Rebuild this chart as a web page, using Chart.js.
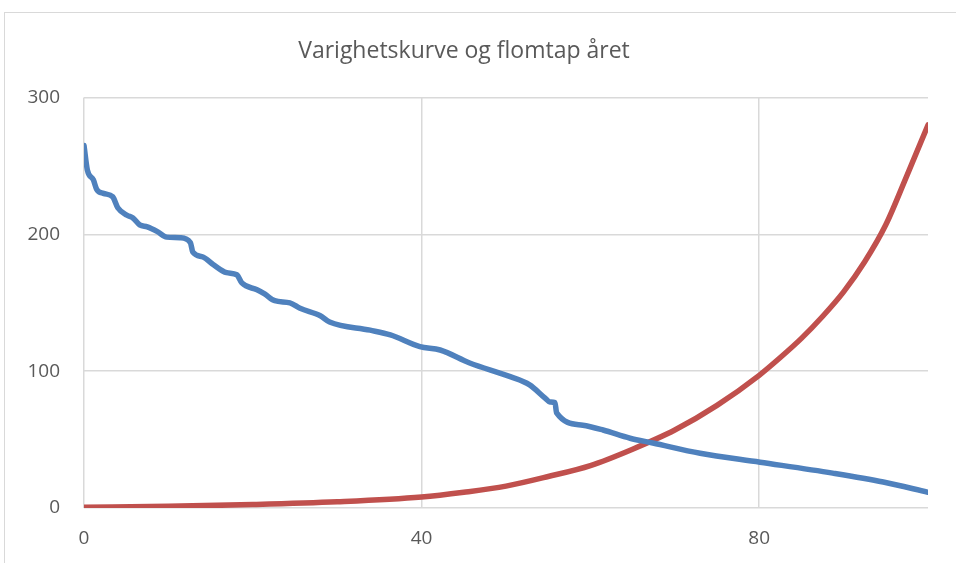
<!DOCTYPE html>
<html>
<head>
<meta charset="utf-8">
<script src="https://cdn.jsdelivr.net/npm/chart.js@4/dist/chart.umd.min.js"></script>
<style>
  body { margin: 0; background: #fff; }
  #wrap { position: relative; width: 956px; height: 563px; overflow: hidden; }
  #frame { position: absolute; left: 4px; top: 12px; width: 980px; height: 600px; border: 1px solid #d9d9d9; }
  #chart { position: absolute; left: 0; top: 0; }
</style>
</head>
<body>
<div id="wrap">
  <div id="frame"></div>
  <canvas id="chart" width="956" height="563"></canvas>
</div>
<script>
// varighetskurve (blue)
const durationX = [0, 0.4, 1.1, 1.5, 2.3, 3.4, 4.0, 5.1, 5.8, 6.6, 7.5, 8.7, 9.8, 11.4, 12.6, 12.9, 14.1, 15.3, 16.9, 18.1, 18.7, 20.5, 21.4, 22.6, 24.4, 25.6, 28.0, 29.1, 33.9, 36.3, 39.8, 42.2, 45.7, 50.5, 52.8, 54.6, 55.2, 55.8, 56.0, 59.1, 61.5, 64.7, 67.4, 73.0, 80.1, 88.7, 94.7, 100];
const durationY = [265, 247, 240, 233, 230, 227.5, 219.5, 214, 212, 207, 205.5, 202, 198, 197.5, 194, 187, 183.5, 178, 172, 170.5, 164.5, 159.5, 156.5, 151.5, 150, 146, 140.5, 136, 130, 126.5, 118, 115.5, 106, 96, 90, 80.5, 77.5, 77, 69.5, 60.5, 57, 51, 47.5, 40, 33.5, 25.5, 19, 11.5];

// flomtap (red)
const lossX = [0, 10, 20, 30, 40, 45, 50, 55, 60, 65, 70, 75, 80, 82.5, 85, 87.5, 90, 92.5, 95, 97.5, 100];
const lossY = [0.5, 1.2, 2.5, 4.5, 8, 11.5, 16, 23, 31, 43, 57, 75, 97, 110, 124, 140, 158, 180, 207, 243, 280];

const xTicks = [0, 40, 80];
const yTicks = [0, 100, 200, 300];

const toPoints = (xs, ys) => xs.map((x, i) => ({ x: x, y: ys[i] }));

const textColor = '#595959';
const gridColor = '#d9d9d9';
const font = "'Open Sans', 'Liberation Sans', sans-serif";

new Chart(document.getElementById('chart'), {
    type: 'line',
    data: {
        datasets: [
            {
                data: toPoints(durationX, durationY),
                borderColor: '#4f81bd',
                borderWidth: 5.5,
                pointRadius: 0,
                cubicInterpolationMode: 'monotone',
                borderCapStyle: 'round',
                borderJoinStyle: 'round'
            },
            {
                data: toPoints(lossX, lossY),
                borderColor: '#c0504d',
                borderWidth: 5.5,
                pointRadius: 0,
                cubicInterpolationMode: 'monotone',
                borderCapStyle: 'round'
            }
        ]
    },
    options: {
        responsive: false,
        animation: false,
        layout: { padding: { left: 0, right: 28, top: 0, bottom: 0 } },
        plugins: {
            legend: { display: false },
            tooltip: { enabled: false },
            title: {
                display: true,
                text: 'Varighetskurve og flomtap året',
                color: textColor,
                font: { family: font, size: 23, weight: 'normal' },
                padding: { top: 38, bottom: 32 }
            }
        },
        scales: {
            x: {
                type: 'linear',
                min: 0,
                max: 100,
                afterBuildTicks: (scale) => { scale.ticks = xTicks.map(v => ({ value: v })); },
                afterFit: (scale) => { scale.height = 55; },
                grid: { color: gridColor, lineWidth: 1.5, drawTicks: false },
                border: { display: false },
                ticks: { color: textColor, font: { family: font, size: 19 }, padding: 19, maxRotation: 0 }
            },
            y: {
                min: 0,
                max: 300,
                afterBuildTicks: (scale) => { scale.ticks = yTicks.map(v => ({ value: v })); },
                afterFit: (scale) => { scale.width = 84; },
                grid: { color: gridColor, lineWidth: 1.5, drawTicks: false },
                border: { display: false },
                ticks: { color: textColor, font: { family: font, size: 19 }, padding: 24 }
            }
        }
    }
});
</script>
</body>
</html>
